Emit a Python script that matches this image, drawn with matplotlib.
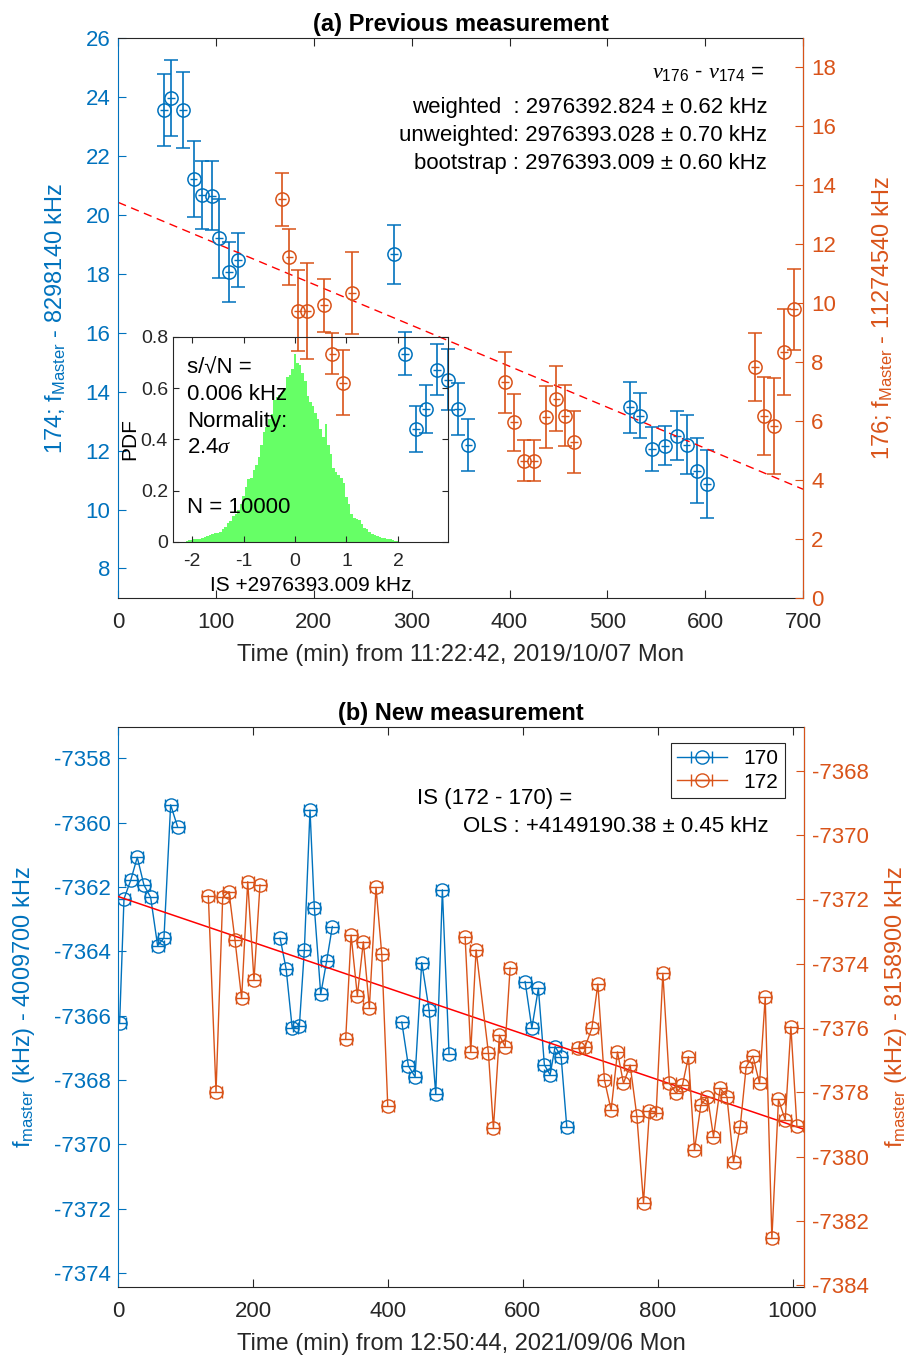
import numpy as np
import matplotlib.pyplot as plt

plt.rcParams['font.family'] = ['Liberation Sans', 'DejaVu Sans']
plt.rcParams['mathtext.fontset'] = 'custom'
plt.rcParams['mathtext.rm'] = 'Liberation Sans'
plt.rcParams['mathtext.it'] = 'Liberation Serif:italic'
plt.rcParams['mathtext.bf'] = 'Liberation Sans:bold'
plt.rcParams['xtick.direction'] = 'in'
plt.rcParams['ytick.direction'] = 'in'
plt.rcParams['axes.unicode_minus'] = False

BLUE = '#0072BD'
ORANGE = '#D95319'
AXC = '#262626'

# ---------- panel (a): previous measurement ----------
t174 = [47, 54, 66, 77, 86, 96, 103, 113, 122, 282, 293, 304, 315, 326, 337, 347, 358,
        523, 533, 546, 559, 571, 581, 592, 602]
y174 = [23.57, 23.96, 23.56, 21.23, 20.67, 20.64, 19.20, 18.06, 18.47, 18.66, 15.29, 12.73,
        13.42, 14.75, 14.40, 13.42, 12.19, 13.47, 13.19, 12.05, 12.17, 12.51, 12.20, 11.32, 10.86]
e174 = [1.22, 1.28, 1.29, 1.29, 1.16, 1.17, 1.33, 1.03, 0.92, 1.01, 0.72, 0.77, 0.81, 0.88,
        1.03, 0.88, 0.87, 0.86, 0.77, 0.74, 0.67, 0.83, 1.00, 1.10, 1.16]

t176 = [167, 175, 184, 193, 210, 219, 230, 239, 395, 405, 415, 425, 437, 448, 457, 466,
        651, 660, 670, 681, 691]
y176 = [13.52, 11.57, 9.75, 9.73, 9.93, 8.29, 7.31, 10.35, 7.32, 5.96, 4.66, 4.66, 6.13,
        6.76, 6.19, 5.30, 7.83, 6.17, 5.83, 8.36, 9.79]
e176 = [0.90, 0.95, 1.36, 1.63, 0.90, 0.70, 1.10, 1.40, 1.04, 0.97, 0.70, 0.70, 1.05, 1.10,
        1.03, 1.06, 1.16, 1.33, 1.62, 1.46, 1.38]

fit_a_t = [0, 700]
fit_a_y = [20.42, 10.69]

# bootstrap histogram (inset)
hist_x = np.round(np.arange(-2.10, 2.001, 0.05), 2)
hist_pdf = [0.005, 0.008, 0.008, 0.010, 0.010, 0.012, 0.015, 0.020, 0.022, 0.028, 0.030,
            0.035, 0.036, 0.040, 0.050, 0.060, 0.075, 0.080, 0.100, 0.110, 0.125, 0.150,
            0.180, 0.215, 0.245, 0.250, 0.280, 0.300, 0.330, 0.380, 0.430, 0.450, 0.480,
            0.500, 0.555, 0.565, 0.575, 0.585, 0.600, 0.645, 0.650, 0.675, 0.735, 0.700,
            0.690, 0.660, 0.630, 0.570, 0.545, 0.530, 0.505, 0.480, 0.440, 0.410, 0.460,
            0.380, 0.345, 0.290, 0.275, 0.262, 0.250, 0.232, 0.175, 0.150, 0.110, 0.095,
            0.090, 0.085, 0.070, 0.055, 0.050, 0.040, 0.032, 0.028, 0.022, 0.020, 0.017,
            0.015, 0.012, 0.010, 0.008, 0.005, 0.003]

# ---------- panel (b): new measurement ----------
t170 = [[2, 8.5, 18.4, 28.2, 38.1, 48.0, 58.4, 67.8, 77.7, 88.1],
        [240, 249, 258, 268.6, 276, 284.4, 290.8, 300.3, 309.2, 317.5],
        [420.5, 430.3, 440.2, 450.1, 461.0, 470.9, 480.7, 490.6],
        [603.4, 613.4, 623.1, 632.0, 640.5, 647.9, 656.8, 665.2]]
y170 = [[-7366.24, -7362.37, -7361.80, -7361.08, -7361.94, -7362.32, -7363.83, -7363.58, -7359.45, -7360.14],
        [-7363.59, -7364.55, -7366.39, -7366.32, -7363.96, -7359.61, -7362.64, -7365.33, -7364.29, -7363.23],
        [-7366.20, -7367.56, -7367.90, -7364.35, -7365.82, -7368.44, -7362.09, -7367.19],
        [-7364.94, -7366.39, -7365.15, -7367.53, -7367.84, -7366.96, -7367.27, -7369.45]]

t172 = [[133.6, 145.0, 154.9, 164.2, 173.1, 183.0, 192.0, 201.3, 210.2],
        [337.3, 345.3, 354.6, 363.5, 372.4, 382.3, 390.8, 399.7],
        [514.4, 522.8, 530.7, 549.0, 556.4, 565.3, 573.7, 581.2],
        [682.5, 692.4, 702.4, 711.3, 721.1, 731.0, 740.4, 749.3, 759.2, 769.1, 779.0, 787.8,
         797.8, 807.7, 817.5, 827.4, 836.8, 845.7, 854.6, 864.1, 873.9, 882.8, 892.7, 902.7,
         912.5, 922.4, 931.3, 941.2, 951.1, 959.5, 969.4, 979.2, 989.2, 997.6, 1006.5]]
y172 = [[-7371.89, -7377.98, -7371.94, -7371.76, -7373.26, -7375.08, -7371.45, -7374.51, -7371.55],
        [-7376.35, -7373.11, -7375.00, -7373.32, -7375.37, -7371.63, -7373.70, -7378.42],
        [-7373.16, -7376.74, -7373.57, -7376.77, -7379.12, -7376.22, -7376.58, -7374.12],
        [-7376.63, -7376.58, -7376.01, -7374.63, -7377.62, -7378.55, -7376.74, -7377.72, -7377.15,
         -7378.73, -7381.43, -7378.57, -7378.63, -7374.30, -7377.72, -7378.03, -7377.77, -7376.89,
         -7379.79, -7378.39, -7378.13, -7379.38, -7377.87, -7378.13, -7380.16, -7379.07, -7377.20,
         -7376.87, -7377.72, -7375.05, -7382.54, -7378.22, -7378.86, -7375.96, -7379.05]]
xerr_b = 9.0

fit_b_t = [0, 1017]
fit_b_y = [-7362.30, -7369.53]

TICK = 16
LAB = 17
TXT = 16

fig = plt.figure(figsize=(9.16, 13.55), dpi=100)


def style_twin(ax, ax2):
    for s in ('top', 'bottom'):
        ax.spines[s].set_color(AXC)
    ax.spines['left'].set_color(BLUE)
    ax2.spines['right'].set_color(ORANGE)
    ax2.spines['left'].set_visible(False)
    ax2.spines['top'].set_visible(False)
    ax2.spines['bottom'].set_visible(False)
    ax.tick_params(axis='x', colors=AXC, labelsize=TICK, top=True, length=6, pad=10)
    ax.tick_params(axis='y', colors=BLUE, labelsize=TICK, length=6, pad=5.5)
    ax2.tick_params(axis='y', colors=ORANGE, labelsize=TICK, length=6, pad=6)


# ---- (a) ----
ax = fig.add_axes([0.1291, 0.5587, 0.7475, 0.4133])
ax2 = ax.twinx()
style_twin(ax, ax2)

ax.errorbar(t174, y174, yerr=e174, fmt='o', color=BLUE, mfc='none', ms=9.5, mew=1.1,
            elinewidth=1.2, capsize=5, capthick=1.2)
ax.errorbar(t174, y174, xerr=4, fmt='none', ecolor=BLUE, elinewidth=1.0, capsize=0)
ax2.errorbar(t176, y176, yerr=e176, fmt='o', color=ORANGE, mfc='none', ms=9.5, mew=1.1,
             elinewidth=1.2, capsize=5, capthick=1.2)
ax2.errorbar(t176, y176, xerr=4, fmt='none', ecolor=ORANGE, elinewidth=1.0, capsize=0)
ax.plot(fit_a_t, fit_a_y, '--', color='red', lw=1.0, dashes=(6, 4))

ax.set_xlim(0, 700)
ax.set_ylim(7, 26)
ax2.set_ylim(0, 19)
ax.set_xticks(range(0, 701, 100))
ax.set_yticks(range(8, 27, 2))
ax2.set_yticks(range(0, 19, 2))
ax.set_xlabel('Time (min) from 11:22:42, 2019/10/07 Mon', fontsize=LAB, color=AXC, labelpad=8)
ax.set_ylabel(r'174; f$_{\mathrm{Master}}$ - 8298140 kHz', fontsize=LAB, color=BLUE, labelpad=13)
ax2.set_ylabel(r'176; f$_{\mathrm{Master}}$ - 11274540 kHz', fontsize=LAB, color=ORANGE, labelpad=25)
ax.set_title('(a) Previous measurement', fontsize=17, fontweight='bold', pad=5)

ax.text(0.944, 0.938, r'$\nu_{\mathrm{176}}$ - $\nu_{\mathrm{174}}$ =', transform=ax.transAxes,
        ha='right', va='center', fontsize=TXT)
ax.text(0.948, 0.875, 'weighted  : 2976392.824 ± 0.62 kHz', transform=ax.transAxes,
        ha='right', va='center', fontsize=TXT)
ax.text(0.948, 0.825, 'unweighted: 2976393.028 ± 0.70 kHz', transform=ax.transAxes,
        ha='right', va='center', fontsize=TXT)
ax.text(0.948, 0.775, 'bootstrap : 2976393.009 ± 0.60 kHz', transform=ax.transAxes,
        ha='right', va='center', fontsize=TXT)

# inset
axi = fig.add_axes([0.1894, 0.6000, 0.2996, 0.1513])
axi.patch.set_alpha(0)
axi.bar(hist_x, hist_pdf, width=0.05, color='#66FF66', edgecolor='none')
axi.set_xlim(-2.36, 2.97)
axi.set_ylim(0, 0.8)
axi.set_xticks([-2, -1, 0, 1, 2])
axi.set_yticks([0, 0.2, 0.4, 0.6, 0.8])
axi.set_yticklabels(['0', '0.2', '0.4', '0.6', '0.8'])
axi.tick_params(labelsize=14, colors=AXC, top=True, right=True, length=4)
axi.tick_params(axis='x', pad=8)
axi.tick_params(axis='y', pad=4)
for s in axi.spines.values():
    s.set_color(AXC)
axi.set_xlabel('IS +2976393.009 kHz', fontsize=15, labelpad=4)
axi.set_ylabel('PDF', fontsize=15, labelpad=1)
axi.text(0.05, 0.90, 's/√N =\n0.006 kHz\nNormality:\n2.4$\\sigma$',
         transform=axi.transAxes, ha='left', va='top', fontsize=TXT, linespacing=1.35)
axi.text(0.05, 0.166, 'N = 10000', transform=axi.transAxes, ha='left', va='center',
         fontsize=TXT)

# ---- (b) ----
bx = fig.add_axes([0.1291, 0.0502, 0.7486, 0.4133])
bx2 = bx.twinx()
style_twin(bx, bx2)

h170 = None
for tt, yy in zip(t170, y170):
    h = bx.errorbar(tt, yy, xerr=xerr_b, fmt='-o', color=BLUE, mfc='none',
                    ms=9.5, mew=1.0, lw=1.0, elinewidth=1.0, capsize=4, capthick=1.0)
    h170 = h170 or h
h172 = None
for tt, yy in zip(t172, y172):
    h = bx2.errorbar(tt, yy, xerr=xerr_b, fmt='-o', color=ORANGE, mfc='none',
                     ms=9.5, mew=1.0, lw=1.0, elinewidth=1.0, capsize=4, capthick=1.0)
    h172 = h172 or h
bx.plot(fit_b_t, fit_b_y, '-', color='red', lw=1.1, zorder=5)

bx.set_xlim(0, 1017)
bx.set_ylim(-7374.43, -7357.03)
bx2.set_ylim(-7384.05, -7366.64)
bx.set_xticks(range(0, 1001, 200))
bx.set_yticks(range(-7374, -7357, 2))
bx2.set_yticks(range(-7384, -7367, 2))
bx.set_xlabel('Time (min) from 12:50:44, 2021/09/06 Mon', fontsize=LAB, color=AXC, labelpad=8)
bx.set_ylabel(r'f$_{\mathrm{master}}$ (kHz) - 4009700 kHz', fontsize=LAB, color=BLUE, labelpad=12)
bx2.set_ylabel(r'f$_{\mathrm{master}}$ (kHz) - 8158900 kHz', fontsize=LAB, color=ORANGE, labelpad=10)
bx.set_title('(b) New measurement', fontsize=17, fontweight='bold', pad=5)

bx2.text(0.662, 0.873, 'IS (172 - 170) =', transform=bx2.transAxes, ha='right', va='center',
         fontsize=TXT)
bx2.text(0.949, 0.823, 'OLS : +4149190.38 ± 0.45 kHz', transform=bx2.transAxes, ha='right',
         va='center', fontsize=TXT)
leg = bx2.legend([h170, h172], ['170', '172'], loc='upper right', bbox_to_anchor=(0.972, 0.971),
                 fontsize=15, fancybox=False, edgecolor=AXC, framealpha=1, borderaxespad=0,
                 handlelength=2.4, borderpad=0.3, labelspacing=0.2)
leg.get_frame().set_linewidth(0.8)

fig.savefig('out.png', dpi=100)
